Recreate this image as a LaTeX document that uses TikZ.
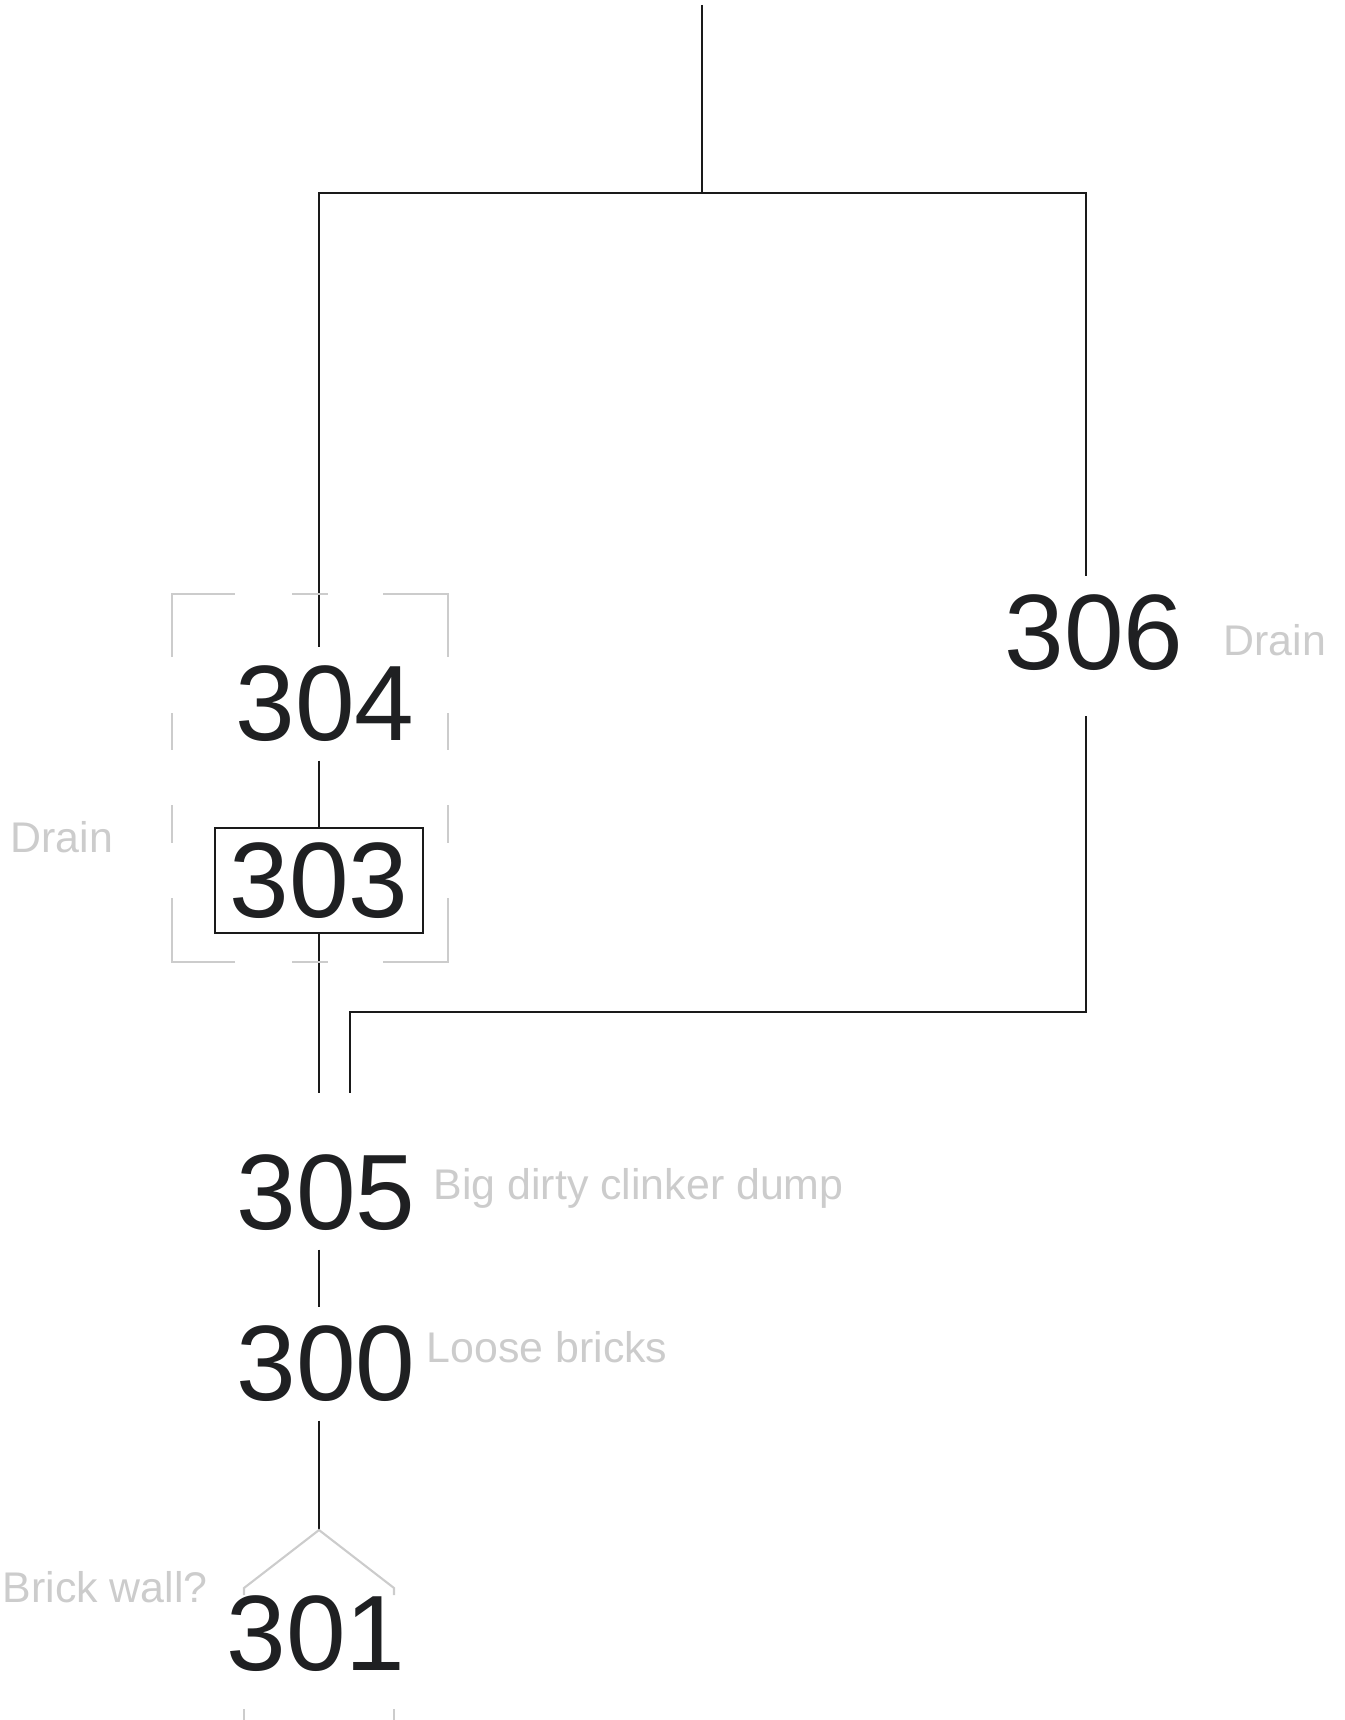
\documentclass[tikz,border=0pt]{standalone}
\usepackage{fontspec}
\setmainfont{Liberation Sans}
\usetikzlibrary{calc}
\definecolor{ink}{HTML}{1F2022}
\definecolor{inkline}{HTML}{1A1A1A}
\definecolor{faint}{HTML}{CCCCCC}
\tikzset{
  ctxnum/.style={text=ink,font=\fontsize{30.5pt}{36pt}\selectfont,inner sep=1.8mm},
  ctxbox/.style={text=ink,font=\fontsize{30.5pt}{36pt}\selectfont,draw=inkline,line width=0.45pt,
                 minimum width=20.8mm,minimum height=10.5mm,inner sep=0pt},
  note/.style={text=faint,font=\fontsize{12.2pt}{15pt}\selectfont,inner sep=0pt,anchor=base west},
  link/.style={draw=inkline,line width=0.45pt},
  groupline/.style={draw=faint,line width=0.6pt}
}

\begin{document}
\begin{tikzpicture}[x=0.1mm,y=-0.1mm]
  \useasboundingbox (0,0) rectangle (1345,1720);

  % contexts
  \node[ctxnum] (n304) at (325,704) {304};
  \node[ctxbox] (n303) at (319,880.5) {303};
  \node[ctxnum] (n306) at (1094,632.5) {306};
  \node[ctxnum] (n305) at (326,1193) {305};
  \node[ctxnum] (n300) at (326,1364) {300};
  \node[ctxnum] (n301) at (316,1634) {301};

  % notes
  \node[note] (l306) at (1223,655) {Drain};
  \node[note] (l303) at (10,852) {Drain};
  \node[note] (l305) at (433,1199) {Big dirty clinker dump};
  \node[note] (l300) at (426,1362) {Loose bricks};
  \node[note] (l301) at (2,1602) {Brick wall?};

  \coordinate (feed) at (702,5);
  \coordinate (split) at (702,193);
  \coordinate (spine) at (319,0);
  \coordinate (rail) at (1086,0);
  \coordinate (join) at (350,1012);
  \coordinate (in305) at (319,1093);
  \coordinate (apex) at (319,1530);

  % links
  \draw[link] (feed) -- (split);
  \draw[link] (split) -| (n304.north -| spine);
  \draw[link] (split) -| (n306.north -| rail);
  \draw[link] (n304.south -| spine) -- (n303.north);
  \draw[link] (n303.south) -- (in305);
  \draw[link] ($(n306.south -| rail)+(0,27)$) -- (rail |- join) -- (join) -- (join |- in305);
  \draw[link] (n305.south -| spine) -- (n300.north -| spine);
  \draw[link] (n300.south -| spine) -- (apex);

  % drain group
  \draw[groupline] (172,657) |- (235,594) (383,594) -| (448,657)
                   (448,898) |- (383,962) (235,962) -| (172,898);
  \draw[groupline] (292,594) -- (328,594) (292,962) -- (328,962)
                   (172,713) -- (172,750) (172,805) -- (172,843)
                   (448,713) -- (448,750) (448,805) -- (448,843);

  % wall group
  \draw[groupline] (244,1595) -- (244,1588) -- (apex) -- (394,1588) -- (394,1595);
  \draw[groupline] (244,1709) -- (244,1720) (394,1709) -- (394,1720);
\end{tikzpicture}
\end{document}
